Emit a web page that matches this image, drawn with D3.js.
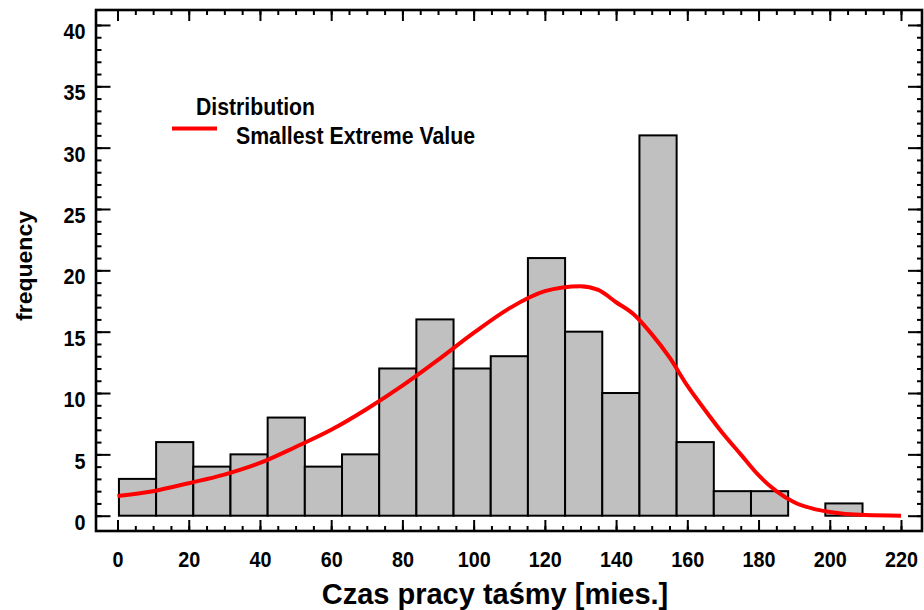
<!DOCTYPE html>
<html>
<head>
<meta charset="utf-8">
<script src="https://cdn.jsdelivr.net/npm/d3@7"></script>
<style>
  html, body { margin: 0; padding: 0; background: #ffffff; }
  svg { display: block; }
  text { font-family: "Liberation Sans", Arial, sans-serif; font-weight: bold; fill: #000; }
</style>
</head>
<body>
<svg id="chart" width="924" height="610"></svg>
<script>
// Histogram of belt operating times (months) with a fitted smallest-extreme-value curve
const binStart = 0.4;
const binWidth = 10.44;
const counts = [3, 6, 4, 5, 8, 4, 5, 12, 16, 12, 13, 21, 15, 10, 31, 6, 2, 2, 0, 1];

// Fitted density, scaled to frequency
const curveX = [0, 10, 20, 30, 40, 50, 60, 70, 80, 90, 100, 110, 120, 125, 130, 135, 140, 145, 150, 155, 160, 165, 170, 175, 180, 185, 190, 195, 200, 210, 220];
const curveY = [1.6, 2.0, 2.65, 3.35, 4.3, 5.6, 7.0, 8.7, 10.6, 12.7, 14.9, 16.9, 18.3, 18.6, 18.7, 18.4, 17.4, 16.4, 14.8, 12.9, 10.6, 8.6, 6.7, 5.0, 3.3, 2.0, 1.1, 0.6, 0.3, 0.05, 0];

const xMajorTicks = [0, 20, 40, 60, 80, 100, 120, 140, 160, 180, 200, 220];
const xMinorTicks = d3.range(0, 221, 5);
const yMajorTicks = [0, 5, 10, 15, 20, 25, 30, 35, 40];
const yMinorTicks = d3.range(0, 41, 1);

const xTitle = "Czas pracy taśmy [mies.]";
const yTitle = "frequency";
const legendTitle = "Distribution";
const legendItem = "Smallest Extreme Value";

const frame = { left: 96, right: 922, top: 10, bottom: 531 };

const svg = d3.select("#chart");

const x = d3.scaleLinear().domain([-6.04, 225.9]).range([frame.left, frame.right]);
const y = d3.scaleLinear().domain([-1.247, 41.22]).range([frame.bottom, frame.top]);

// bars
const bins = counts.map((c, i) => ({ x0: binStart + i * binWidth, x1: binStart + (i + 1) * binWidth, count: c }));
svg.append("g")
  .selectAll("rect")
  .data(bins.filter(d => d.count > 0))
  .join("rect")
  .attr("x", d => x(d.x0))
  .attr("width", d => x(d.x1) - x(d.x0))
  .attr("y", d => y(d.count))
  .attr("height", d => y(0) - y(d.count))
  .attr("fill", "#c0c0c0")
  .attr("stroke", "#000")
  .attr("stroke-width", 2);

// fitted curve
const pts = curveX.map((v, i) => [v, curveY[i]]);
svg.append("path")
  .datum(pts)
  .attr("fill", "none")
  .attr("stroke", "#ff0000")
  .attr("stroke-width", 4)
  .attr("d", d3.line().x(d => x(d[0])).y(d => y(d[1])).curve(d3.curveMonotoneX));

// axes: ticks point inward on all four sides
function styleAxis(g) {
  g.select(".domain").remove();
  g.selectAll(".tick line").attr("stroke", "#000").attr("stroke-width", 2);
}
function styleLabels(sel) {
  sel.attr("font-size", 22)
    .attr("font-family", "Liberation Sans, Arial, sans-serif")
    .attr("font-weight", "bold")
    .attr("lengthAdjust", "spacingAndGlyphs")
    .attr("textLength", function () { return this.textContent.length * 11; });
}

svg.append("g").attr("transform", `translate(0,${frame.bottom})`)
  .call(d3.axisBottom(x).tickValues(xMinorTicks).tickSize(-5).tickFormat(""))
  .call(styleAxis);
const xAxis = svg.append("g").attr("transform", `translate(0,${frame.bottom})`)
  .call(d3.axisBottom(x).tickValues(xMajorTicks).tickSize(-11).tickPadding(20).tickFormat(d3.format("d")))
  .call(styleAxis);
xAxis.selectAll("text").call(styleLabels);

svg.append("g").attr("transform", `translate(0,${frame.top})`)
  .call(d3.axisTop(x).tickValues(xMinorTicks).tickSize(-5).tickFormat(""))
  .call(styleAxis);
svg.append("g").attr("transform", `translate(0,${frame.top})`)
  .call(d3.axisTop(x).tickValues(xMajorTicks).tickSize(-11).tickFormat(""))
  .call(styleAxis);

svg.append("g").attr("transform", `translate(${frame.left},0)`)
  .call(d3.axisLeft(y).tickValues(yMinorTicks).tickSize(-5.5).tickFormat(""))
  .call(styleAxis);
const yAxis = svg.append("g").attr("transform", `translate(${frame.left},0)`)
  .call(d3.axisLeft(y).tickValues(yMajorTicks).tickSize(-14.5).tickPadding(10.5).tickFormat(d3.format("d")))
  .call(styleAxis);
yAxis.selectAll("text").call(styleLabels).attr("dy", "0.62em");

svg.append("g").attr("transform", `translate(${frame.right},0)`)
  .call(d3.axisRight(y).tickValues(yMinorTicks).tickSize(-5).tickFormat(""))
  .call(styleAxis);
svg.append("g").attr("transform", `translate(${frame.right},0)`)
  .call(d3.axisRight(y).tickValues(yMajorTicks).tickSize(-14).tickFormat(""))
  .call(styleAxis);

// frame
svg.append("rect")
  .attr("x", frame.left).attr("y", frame.top)
  .attr("width", frame.right - frame.left).attr("height", frame.bottom - frame.top)
  .attr("fill", "none").attr("stroke", "#000").attr("stroke-width", 2.6);

// titles
svg.append("text")
  .attr("x", 495).attr("y", 604)
  .attr("text-anchor", "middle").attr("font-size", 29)
  .text(xTitle);

svg.append("text")
  .attr("transform", "translate(32,266) rotate(-90)")
  .attr("text-anchor", "middle").attr("font-size", 22)
  .attr("textLength", 110).attr("lengthAdjust", "spacingAndGlyphs")
  .text(yTitle);

// legend
svg.append("text")
  .attr("x", 196).attr("y", 115).attr("font-size", 23)
  .attr("textLength", 119).attr("lengthAdjust", "spacingAndGlyphs")
  .text(legendTitle);
svg.append("line")
  .attr("x1", 172).attr("x2", 217).attr("y1", 128.5).attr("y2", 128.5)
  .attr("stroke", "#ff0000").attr("stroke-width", 4);
svg.append("text")
  .attr("x", 236).attr("y", 144).attr("font-size", 23)
  .attr("textLength", 239).attr("lengthAdjust", "spacingAndGlyphs")
  .text(legendItem);
</script>
</body>
</html>
